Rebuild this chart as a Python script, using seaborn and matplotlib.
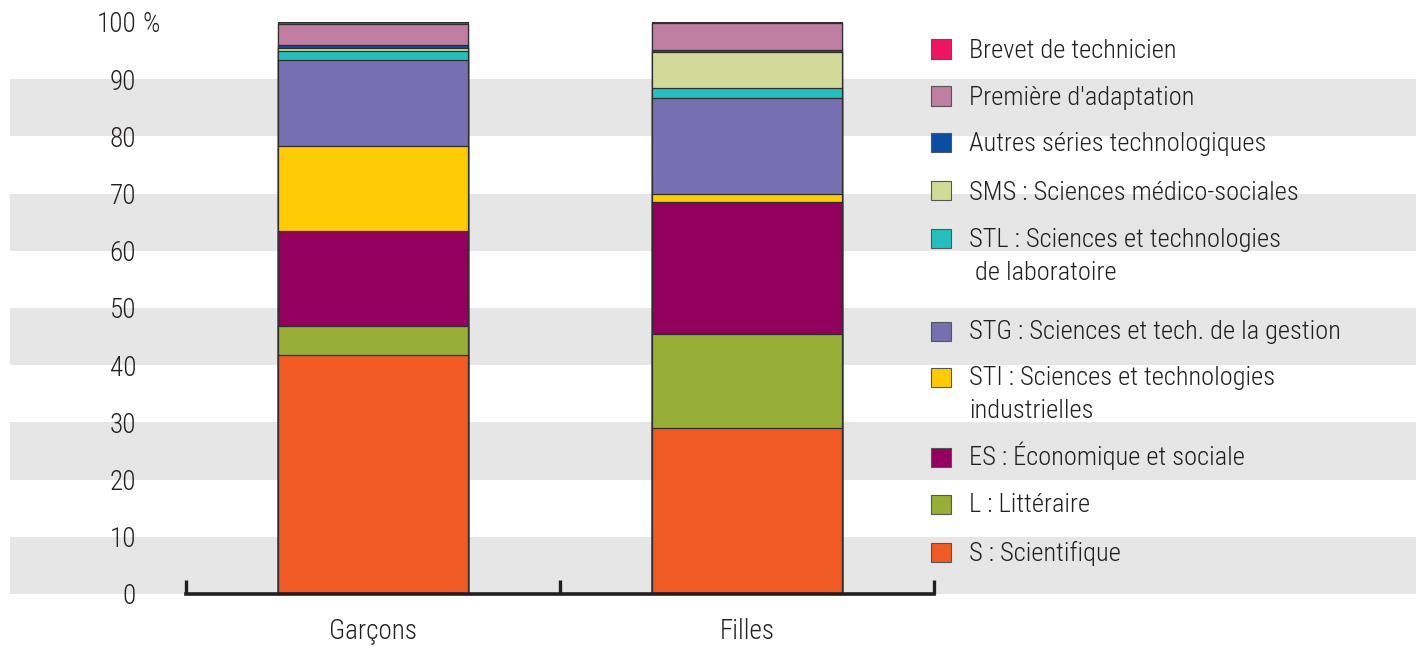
import matplotlib
matplotlib.use("Agg")
import matplotlib.pyplot as plt
import matplotlib.transforms as mtransforms
from matplotlib.patches import Rectangle
import numpy as np
import pandas as pd
import seaborn as sns

# Data (share of pupils in each series, %)
groups = ["Garçons", "Filles"]
series = [
    "S : Scientifique",
    "L : Littéraire",
    "ES : Économique et sociale",
    "STI : Sciences et technologies\nindustrielles",
    "STG : Sciences et tech. de la gestion",
    "STL : Sciences et technologies\n de laboratoire",
    "SMS : Sciences médico-sociales",
    "Autres séries technologiques",
    "Première d'adaptation",
    "Brevet de technicien",
]
garcons = [41.8, 5.0, 16.7, 14.8, 15.0, 1.6, 0.5, 0.6, 3.6, 0.4]
filles = [29.0, 16.5, 23.0, 1.4, 16.9, 1.6, 6.3, 0.4, 4.7, 0.2]
colors = ["#F05A24", "#98AE36", "#93005E", "#FFCB05", "#7670B0",
          "#26BDBD", "#D2DA9A", "#0D4DA1", "#BF7EA2", "#EC1561"]
yticks = list(range(0, 101, 10))

sns.set_theme(style="white")
plt.rcParams["font.family"] = ["Roboto Condensed", "Roboto", "DejaVu Sans"]
plt.rcParams["font.weight"] = "light"
TXT = "#231F20"

W, H = 1416, 647
fig = plt.figure(figsize=(W / 100, H / 100), dpi=100)
ax = fig.add_axes([186 / W, 1 - 594 / H, (934 - 186) / W, (594 - 22) / H])
ax.patch.set_visible(False)

# Horizontal grey bands across the whole figure width
band_tr = mtransforms.blended_transform_factory(fig.transFigure, ax.transData)
for y0 in range(0, 100, 20):
    ax.add_artist(Rectangle((10 / W, y0), 1 - 10 / W, 10, transform=band_tr,
                            facecolor="#E6E6E6", edgecolor="none", zorder=0,
                            clip_on=False))

# Stacked bars: draw cumulative totals from top to bottom
df = pd.DataFrame({"group": groups})
cum_g = np.cumsum(garcons)
cum_f = np.cumsum(filles)
for i in reversed(range(len(series))):
    df["top"] = [cum_g[i], cum_f[i]]
    sns.barplot(data=df, x="group", y="top", color=colors[i], saturation=1,
                width=0.508, edgecolor="#2e2e2e", linewidth=0.9, ax=ax,
                zorder=2)

ax.set_xlim(-0.5, 1.5)
ax.set_ylim(0, 100)
ax.set_xlabel("")
ax.set_ylabel("")
for s in ["top", "right", "left"]:
    ax.spines[s].set_visible(False)
ax.spines["bottom"].set_linewidth(2.6)
ax.spines["bottom"].set_color(TXT)
ax.spines["bottom"].set_zorder(5)

ax.set_yticks(yticks)
ax.set_yticklabels([str(v) for v in yticks])
ax.tick_params(axis="y", length=0, pad=36, labelsize=19.5, labelcolor=TXT)
ax.tick_params(axis="x", which="major", length=0, pad=17, labelsize=19.5,
               labelcolor=TXT)
ax.set_xticks([-0.5, 0.5, 1.5], minor=True)
ax.tick_params(axis="x", which="minor", direction="in", length=10, width=2.4,
               color=TXT, bottom=True)

lbl_tr = mtransforms.blended_transform_factory(fig.transFigure, ax.transData)
ax.text(143 / W, 100, "%", transform=lbl_tr, ha="left", va="center_baseline",
        fontsize=19.5, color=TXT)

# Manual legend
legend_y = [552, 504, 457, 377, 331, 238, 191, 143, 96, 49]
for i, name in enumerate(series):
    yc = legend_y[i]
    fig.patches.append(Rectangle((931 / W, 1 - (yc + 9.5) / H), 20 / W, 19 / H,
                                 transform=fig.transFigure, facecolor=colors[i],
                                 edgecolor="#555555", linewidth=0.8))
    for k, line in enumerate(name.split("\n")):
        fig.text(969 / W, 1 - (yc + 8.5 + 33 * k) / H, line, ha="left",
                 va="baseline", fontsize=19, color=TXT)

fig.savefig("out.png", dpi=100)
